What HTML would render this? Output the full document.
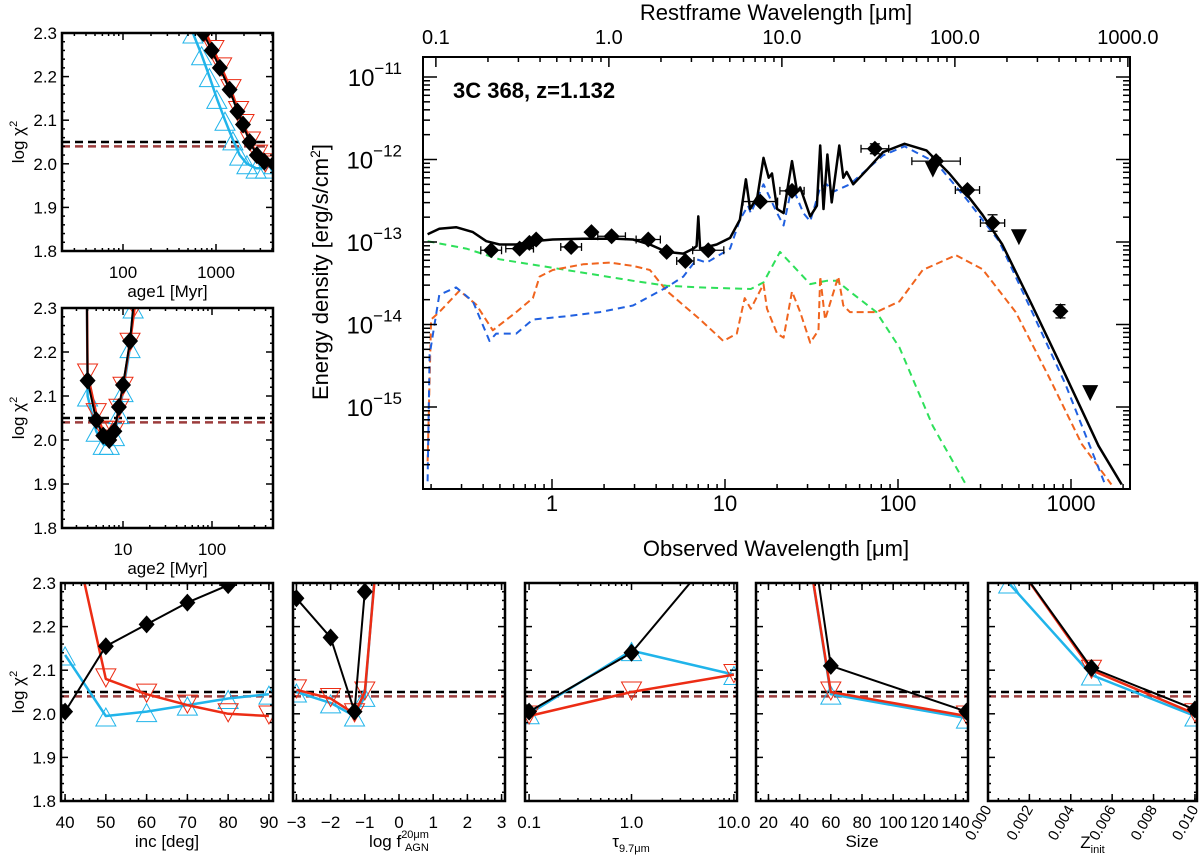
<!DOCTYPE html>
<html><head><meta charset="utf-8">
<style>
html,body{margin:0;padding:0;background:#fff;}
svg{display:block;font-family:"Liberation Sans","DejaVu Sans",sans-serif;}
</style></head>
<body>
<svg id="fig" width="1200" height="856" viewBox="0 0 1200 856" xmlns="http://www.w3.org/2000/svg">
<defs>
<clipPath id="clipMain"><rect x="423" y="57" width="707" height="432"/></clipPath>
</defs>
</svg>
<script>
// ===== Main SED data (observed wavelength in micron, log10 energy density) =====
const totalLam = [0.191,0.223,0.279,0.349,0.417,0.498,0.621,0.776,1.01,1.51,2.36,2.94,3.68,4.59,5.74,6.56,6.85,7.01,7.18,8.95,10.7,12.2,13.2,13.96,15.4,16.7,17.9,18.7,20.0,21.8,24.4,26.1,27.2,31.1,34.0,35.5,37.1,39.1,41.4,45.8,48.3,50.5,55.1,65.8,82,109,146,198,247,308,401,597,927,1442,1963];
const totalLogF = [-12.905,-12.84,-12.82,-12.88,-12.99,-13.03,-13.03,-12.99,-12.97,-12.96,-12.96,-12.97,-13.03,-13.12,-13.14,-13.08,-13.05,-12.69,-13.08,-13.03,-12.95,-12.73,-12.24,-12.6,-12.45,-11.98,-12.22,-12.17,-12.6,-12.65,-12.02,-12.39,-12.34,-12.69,-12.56,-11.83,-12.60,-11.94,-12.52,-11.83,-12.22,-12.15,-12.30,-12.13,-11.91,-11.81,-11.89,-12.17,-12.41,-12.67,-13.03,-13.77,-14.61,-15.47,-15.94];
const sbLam = [0.191,0.196,0.223,0.279,0.349,0.435,0.476,0.621,0.776,1.21,1.89,2.94,4.59,5.74,6.85,7.84,10.7,12.2,13.6,14.1,16.7,20.0,21.8,24.4,28.4,31.1,35.5,38.7,42.3,52.7,82,109,166,247,384,597,927,1574];
const sbLogF = [-15.9,-14.37,-13.64,-13.55,-13.72,-14.2,-14.11,-14.11,-13.94,-13.9,-13.85,-13.77,-13.55,-13.42,-13.21,-13.25,-13.08,-12.73,-12.56,-12.65,-12.30,-12.65,-12.80,-12.32,-12.65,-12.75,-12.34,-12.30,-12.39,-12.30,-11.95,-11.84,-12.04,-12.47,-12.99,-13.85,-14.72,-15.94];
const hostLam = [0.191,0.2,0.223,0.292,0.365,0.455,0.621,0.776,0.848,1.01,1.51,2.16,2.94,3.68,4.59,7.18,9.78,11.7,13.0,14.1,16.7,17.5,20.0,21.8,24.4,27.2,31.1,34.7,35.5,37.9,45.2,48.3,52.7,75,102,139,216,308,479,743,1154,1712];
const hostLogF = [-15.66,-13.94,-13.85,-13.59,-13.76,-14.07,-13.85,-13.68,-13.42,-13.34,-13.27,-13.25,-13.29,-13.34,-13.59,-13.94,-14.2,-14.11,-13.68,-13.81,-13.51,-13.81,-14.11,-14.16,-13.60,-13.85,-14.22,-14.07,-13.42,-13.94,-13.42,-13.77,-13.85,-13.85,-13.72,-13.34,-13.16,-13.33,-13.85,-14.63,-15.45,-15.94];
const agnLam = [0.191,0.319,0.498,1.21,2.94,4.59,7.18,14.1,16.7,20.8,31.1,38.7,44.3,52.7,75,102,159,247];
const agnLogF = [-12.99,-13.08,-13.21,-13.34,-13.47,-13.53,-13.55,-13.57,-13.49,-13.12,-13.51,-13.47,-13.47,-13.60,-13.85,-14.28,-15.23,-15.94];
const obsLam = [0.445,0.65,0.74,0.81,1.29,1.69,2.21,3.6,4.6,5.9,8.0,16.0,24.4,73.5,166,252,352,869];
const obsLogF = [-13.10,-13.08,-13.01,-12.97,-13.06,-12.88,-12.93,-12.97,-13.12,-13.23,-13.10,-12.51,-12.38,-11.87,-12.02,-12.37,-12.77,-13.84];
const obsXErr = [0.06,0.08,0,0,0.06,0,0.08,0.07,0,0.05,0.09,0.1,0.07,0.08,0.14,0.07,0.07,0];
const obsYErr = [0,0,0,0,0,0,0,0,0,0,0,0,0,0.06,0.04,0,0.1,0.08];
const limLam = [159,500,1291];
const limLogF = [-12.11,-12.93,-14.82];

// ===== chi2 panel data =====
const age1BlkX=[730,900,1100,1400,1700,1950,2300,2750,3300,4200], age1BlkY=[2.30,2.26,2.22,2.17,2.12,2.09,2.05,2.02,2.005,2.0];
const age1RedX=[780,950,1150,1450,1750,2000,2350,2800,3400,4300], age1RedY=[2.30,2.26,2.22,2.17,2.12,2.09,2.05,2.02,2.0,1.995];
const age1CyaX=[565,700,850,1020,1250,1520,1800,2150,2700,3400,4200], age1CyaY=[2.30,2.25,2.20,2.15,2.10,2.055,2.02,2.0,1.99,1.99,2.0];
const age2BlkX=[3.9,4,5,6,7,8,9,10,12,13.3], age2BlkY=[2.4,2.135,2.045,2.01,2.0,2.02,2.075,2.125,2.225,2.32];
const age2RedX=[3.9,4,5,6,7,8,9,10,12,13.5], age2RedY=[2.4,2.15,2.06,2.02,2.0,2.02,2.07,2.12,2.22,2.3];
const age2CyaX=[3.9,4,5,6,7,8,9,10,12,13], age2CyaY=[2.4,2.10,2.02,1.99,1.99,2.01,2.06,2.11,2.21,2.3];
const incX=[40,50,60,70,80,90];
const incBlk=[2.005,2.155,2.205,2.255,2.295,2.33];
const incRed=[2.5,2.08,2.045,2.02,2.0,1.995];
const incCya=[2.135,1.995,2.005,2.02,2.035,2.045];
const fagnX=[-3,-2,-1.3,-1,-0.7];
const fagnBlk=[2.265,2.175,2.005,2.28,2.6];
const fagnRed=[2.055,2.035,2.0,2.05,2.32];
const fagnCya=[2.05,2.025,1.995,2.04,2.33];
const tauX=[0.1,1,10];
const tauBlk=[2.005,2.14,2.42];
const tauRed=[1.995,2.05,2.09];
const tauCya=[2.0,2.145,2.09];
const sizeX=[40,60,147];
const sizeBlk=[2.6,2.11,2.005];
const sizeRed=[2.5,2.05,1.995];
const sizeCya=[2.5,2.045,1.99];
const zX=[0.001,0.005,0.010];
const zBlk=[2.37,2.105,2.01];
const zRed=[2.37,2.10,2.0];
const zCya=[2.30,2.089,1.995];
const chiBestBlk=2.05, chiBestCol=2.04;

const NS='http://www.w3.org/2000/svg';
const svg=document.getElementById('fig');
function el(tag,attrs,name,parent){
  const e=document.createElementNS(NS,tag);
  for(const k in attrs) e.setAttribute(k,attrs[k]);
  
  
  (parent||svg).appendChild(e);
  return e;
}
function txt(x,y,s,size,name,opts){
  opts=opts||{};
  const t=el('text',{x:x,y:y,'font-size':size,'text-anchor':opts.anchor||'middle',fill:'#000','font-weight':opts.bold?'bold':'normal'},name,opts.parent);
  if(opts.transform) t.setAttribute('transform',opts.transform);
  t.textContent=s;
  return t;
}
function poly(xs,ys,color,w,dash,name,parent){
  const pts=xs.map((x,i)=>x.toFixed(1)+','+ys[i].toFixed(1)).join(' ');
  const a={points:pts,fill:'none',stroke:color,'stroke-width':w,'stroke-linejoin':'round'};
  if(dash) a['stroke-dasharray']=dash;
  return el('polyline',a,name,parent);
}
const L10=Math.log10;

// ===== MAIN PANEL =====
const MX0=423,MX1=1130,MY0=57,MY1=489;
const mx=l=>552+173*L10(l);
const my=f=>77+(-11-f)*82.5;
const gMain=el('g',{},'sed-panel');
const gClip=el('g',{'clip-path':'url(#clipMain)'},'sed-plot-area',gMain);
poly(agnLam.map(mx),agnLogF.map(my),'#2ee05a',2,'7,5','agn-component-line',gClip);
poly(hostLam.map(mx),hostLogF.map(my),'#f0641e',2,'7,4','host-component-line',gClip);
poly(sbLam.map(mx),sbLogF.map(my),'#2060e0',2,'7,5','starburst-component-line',gClip);
poly(totalLam.map(mx),totalLogF.map(my),'#000',2.5,null,'total-model-line',gClip);
obsLam.forEach((l,i)=>{
  const x=mx(l),y=my(obsLogF[i]);
  if(obsXErr[i]>0){
    const xa=mx(l/Math.pow(10,obsXErr[i])),xb=mx(l*Math.pow(10,obsXErr[i]));
    el('line',{x1:xa,y1:y,x2:xb,y2:y,stroke:'#000','stroke-width':1.3},'x-error-bar',gClip);
    el('line',{x1:xa,y1:y-4,x2:xa,y2:y+4,stroke:'#000','stroke-width':1.3},'x-error-cap',gClip);
    el('line',{x1:xb,y1:y-4,x2:xb,y2:y+4,stroke:'#000','stroke-width':1.3},'x-error-cap',gClip);
  }
  if(obsYErr[i]>0){
    const ya=my(obsLogF[i]+obsYErr[i]),yb=my(obsLogF[i]-obsYErr[i]);
    el('line',{x1:x,y1:ya,x2:x,y2:yb,stroke:'#000','stroke-width':1.3},'y-error-bar',gClip);
    el('line',{x1:x-5,y1:ya,x2:x+5,y2:ya,stroke:'#000','stroke-width':1.3},'y-error-cap',gClip);
    el('line',{x1:x-5,y1:yb,x2:x+5,y2:yb,stroke:'#000','stroke-width':1.3},'y-error-cap',gClip);
  }
  el('polygon',{points:`${x},${y-8} ${x+8},${y} ${x},${y+8} ${x-8},${y}`,fill:'#000'},'photometry-point',gClip);
});
limLam.forEach((l,i)=>{
  const x=mx(l),y=my(limLogF[i]);
  el('polygon',{points:`${x-8},${y-7} ${x+8},${y-7} ${x},${y+9}`,fill:'#000'},'upper-limit-point',gClip);
});
el('rect',{x:MX0,y:MY0,width:MX1-MX0,height:MY1-MY0,fill:'none',stroke:'#000','stroke-width':2},'sed-frame',gMain);
for(let d=-1;d<=3;d++){
  for(let m=1;m<=9;m++){
    const v=m*Math.pow(10,d); const x=mx(v);
    if(x<MX0||x>MX1) continue;
    const len=m===1?10:5;
    el('line',{x1:x,y1:MY1,x2:x,y2:MY1-len,stroke:'#000','stroke-width':1.5},'x-tick',gMain);
    if(m===1) txt(x,511,String(v),22,'x-tick-label',{parent:gMain});
  }
}
for(let d=-1;d<=3;d++){
  for(let m=1;m<=9;m++){
    const r=m*Math.pow(10,d); const x=mx(r*2.132);
    if(x<MX0||x>MX1+1) continue;
    const len=m===1?10:5;
    el('line',{x1:x,y1:MY0,x2:x,y2:MY0+len,stroke:'#000','stroke-width':1.5},'top-x-tick',gMain);
    if(m===1) txt(x,44,r.toFixed(1),20,'top-x-tick-label',{parent:gMain});
  }
}
for(let e=-16;e<=-11;e++){
  for(let m=1;m<=9;m++){
    const f=e+L10(m); const y=my(f);
    if(y<MY0||y>MY1) continue;
    const len=m===1?14:7;
    el('line',{x1:MX0,y1:y,x2:MX0+len,y2:y,stroke:'#000','stroke-width':1.5},'y-tick',gMain);
    el('line',{x1:MX1,y1:y,x2:MX1-len,y2:y,stroke:'#000','stroke-width':1.5},'y-tick-right',gMain);
    if(m===1 && e>=-15){
      const t=txt(402,y+9,'10',24,'y-tick-label',{anchor:'end',parent:gMain});
      const s=document.createElementNS(NS,'tspan'); s.setAttribute('dy','-12'); s.setAttribute('font-size','17'); s.textContent='\u2212'+(-e); t.appendChild(s);
    }
  }
}
txt(776,20,'Restframe Wavelength [\u03bcm]',22,'top-x-axis-title',{parent:gMain});
txt(776,556,'Observed Wavelength [\u03bcm]',22,'x-axis-title',{parent:gMain});
const yt=txt(328,272,'Energy density [erg/s/cm',22,'y-axis-title',{parent:gMain,transform:'rotate(-90 328 272)'});
{const s=document.createElementNS(NS,'tspan'); s.setAttribute('dy','-8'); s.setAttribute('font-size','14'); s.textContent='2'; yt.appendChild(s);
 const s2=document.createElementNS(NS,'tspan'); s2.setAttribute('dy','8'); s2.textContent=']'; yt.appendChild(s2);}
txt(453,98,'3C 368, z=1.132',22,'source-title',{anchor:'start',bold:true,parent:gMain});

// ===== SMALL PANELS =====
let clipId=0;
function panel(cfg){
  const g=el('g',{},cfg.name);
  const fy=v=>cfg.y0+(2.3-v)/0.5*(cfg.y1-cfg.y0);
  const cid='cp'+(clipId++);
  const cp=el('clipPath',{id:cid},'clip',svg.querySelector('defs'));
  el('rect',{x:cfg.x0,y:cfg.y0,width:cfg.x1-cfg.x0,height:cfg.y1-cfg.y0},'clip-rect',cp);
  const gc=el('g',{'clip-path':`url(#${cid})`},'plot-area',g);
  el('line',{x1:cfg.x0,x2:cfg.x1,y1:fy(chiBestBlk),y2:fy(chiBestBlk),stroke:'#000','stroke-width':2.5,'stroke-dasharray':'8,5'},'threshold-black',gc);
  el('line',{x1:cfg.x0,x2:cfg.x1,y1:fy(chiBestCol),y2:fy(chiBestCol),stroke:'#9c3c3c','stroke-width':2.5,'stroke-dasharray':'8,5'},'threshold-colour',gc);
  const series=[['cyan',cfg.cx,cfg.cy,'#20b4ea'],['red',cfg.rx,cfg.ry,'#ec2c14'],['black',cfg.bx,cfg.by,'#000']];
  series.forEach(([k,xs,ys,c])=>{
    const px=xs.map(cfg.fx), py=ys.map(fy);
    px.forEach((x,i)=>{
      const y=py[i];
      if(k==='black') el('polygon',{points:`${x},${y-9} ${x+8},${y} ${x},${y+9} ${x-8},${y}`,fill:'#000'},'chi2-black-marker',gc);
      else if(k==='red') el('polygon',{points:`${x-10},${y-10} ${x+10},${y-10} ${x},${y+8}`,fill:'none',stroke:c,'stroke-width':1},'chi2-red-marker',gc);
      else el('polygon',{points:`${x-10},${y+10} ${x+10},${y+10} ${x},${y-8}`,fill:'none',stroke:c,'stroke-width':1},'chi2-cyan-marker',gc);
    });
    poly(px,py,c,k==='black'?2:2.5,null,'chi2-'+k+'-line',gc);
  });
  el('rect',{x:cfg.x0,y:cfg.y0,width:cfg.x1-cfg.x0,height:cfg.y1-cfg.y0,fill:'none',stroke:'#000','stroke-width':2.5},'panel-frame',g);
  for(let i=0;i<=25;i++){
    const v=1.8+i*0.02; const y=fy(v); const major=i%5===0;
    const len=major?7:3;
    el('line',{x1:cfg.x0,x2:cfg.x0+len,y1:y,y2:y,stroke:'#000','stroke-width':1.5},'y-tick',g);
    el('line',{x1:cfg.x1,x2:cfg.x1-len,y1:y,y2:y,stroke:'#000','stroke-width':1.5},'y-tick-right',g);
    if(major && cfg.ylab) txt(cfg.x0-5,y+6,v.toFixed(1),17,'y-tick-label',{anchor:'end',parent:g});
  }
  if(cfg.ylab){
    const cy=(cfg.y0+cfg.y1)/2;
    const t=txt(24,cy,'log \u03c7',17,'y-axis-title',{parent:g,transform:`rotate(-90 24 ${cy})`});
    const s=document.createElementNS(NS,'tspan'); s.setAttribute('dy','-7'); s.setAttribute('font-size','11'); s.textContent='2'; t.appendChild(s);
  }
  cfg.minor.forEach(v=>{const x=cfg.fx(v); if(x<cfg.x0||x>cfg.x1) return;
    el('line',{x1:x,x2:x,y1:cfg.y1,y2:cfg.y1-3,stroke:'#000','stroke-width':1.5},'x-minor-tick',g);
    el('line',{x1:x,x2:x,y1:cfg.y0,y2:cfg.y0+3,stroke:'#000','stroke-width':1.5},'x-minor-tick-top',g);});
  cfg.major.forEach((v,i)=>{const x=cfg.fx(v);
    el('line',{x1:x,x2:x,y1:cfg.y1,y2:cfg.y1-7,stroke:'#000','stroke-width':1.5},'x-tick',g);
    el('line',{x1:x,x2:x,y1:cfg.y0,y2:cfg.y0+7,stroke:'#000','stroke-width':1.5},'x-tick-top',g);
    if(cfg.rot) txt(x+4,cfg.y1+8,cfg.labels[i],15,'x-tick-label',{anchor:'end',parent:g,transform:`rotate(-60 ${x+4} ${cfg.y1+8})`});
    else txt(x,cfg.y1+27,cfg.labels[i],17,'x-tick-label',{parent:g});
  });
  const tt=txt((cfg.x0+cfg.x1)/2,cfg.y1+(cfg.rot?47:46),cfg.title,17,'x-axis-title',{parent:g});
  if(cfg.sup){const s=document.createElementNS(NS,'tspan'); s.setAttribute('dy','-9'); s.setAttribute('font-size','11'); s.textContent=cfg.sup; tt.appendChild(s);}
  if(cfg.sub){const s=document.createElementNS(NS,'tspan'); s.setAttribute('dy',cfg.sup?'13':'5'); s.setAttribute('font-size','11'); if(cfg.sup) s.setAttribute('dx','-24'); s.textContent=cfg.sub; tt.appendChild(s);}
}
function range(a,b,s){const r=[];for(let v=a;v<=b+1e-9;v+=s)r.push(+v.toFixed(6));return r;}
function logMinors(d0,d1){const r=[];for(let d=d0;d<=d1;d++)for(let m=2;m<=9;m++)r.push(m*Math.pow(10,d));return r;}

panel({name:'age1-panel',x0:62,x1:273,y0:33,y1:251,fx:v=>123+93*(L10(v)-2),major:[100,1000],labels:['100','1000'],minor:logMinors(1,3),
  bx:age1BlkX,by:age1BlkY,rx:age1RedX,ry:age1RedY,cx:age1CyaX,cy:age1CyaY,ylab:true,title:'age1 [Myr]'});
panel({name:'age2-panel',x0:62,x1:273,y0:308,y1:528,fx:v=>123+89*(L10(v)-1),major:[10,100],labels:['10','100'],minor:logMinors(0,2),
  bx:age2BlkX,by:age2BlkY,rx:age2RedX,ry:age2RedY,cx:age2CyaX,cy:age2CyaY,ylab:true,title:'age2 [Myr]'});
panel({name:'inc-panel',x0:61,x1:273,y0:583,y1:801,fx:v=>61+(v-39)/52*212,major:range(40,90,10),labels:['40','50','60','70','80','90'],minor:range(40,90,2),
  bx:incX,by:incBlk,rx:incX,ry:incRed,cx:incX,cy:incCya,ylab:true,title:'inc [deg]'});
panel({name:'fagn-panel',x0:293,x1:505,y0:583,y1:801,fx:v=>293+(v+3.1)/6.2*212,major:range(-3,3,1),labels:['\u22123','\u22122','\u22121','0','1','2','3'],minor:range(-3,3,0.2),
  bx:fagnX,by:fagnBlk,rx:fagnX,ry:fagnRed,cx:fagnX,cy:fagnCya,title:'log f',sup:'20\u03bcm',sub:'AGN'});
panel({name:'tau-panel',x0:525,x1:737,y0:583,y1:801,fx:v=>525+(L10(v)+1.04)/2.07*212,major:[0.1,1,10],labels:['0.1','1.0','10.0'],minor:logMinors(-1,0),
  bx:tauX,by:tauBlk,rx:tauX,ry:tauRed,cx:tauX,cy:tauCya,title:'\u03c4',sub:'9.7\u03bcm'});
panel({name:'size-panel',x0:756,x1:968,y0:583,y1:801,fx:v=>756+(v-12)/136*212,major:range(20,140,20),labels:['20','40','60','80','100','120','140'],minor:range(15,145,5),
  bx:sizeX,by:sizeBlk,rx:sizeX,ry:sizeRed,cx:sizeX,cy:sizeCya,title:'Size'});
panel({name:'zinit-panel',x0:988,x1:1197,y0:583,y1:801,fx:v=>988+v/0.0101*209,major:range(0,0.01,0.002),labels:['0.000','0.002','0.004','0.006','0.008','0.010'],minor:range(0,0.01,0.0005),rot:true,
  bx:zX,by:zBlk,rx:zX,ry:zRed,cx:zX,cy:zCya,title:'Z',sub:'init'});
</script>
</body></html>
